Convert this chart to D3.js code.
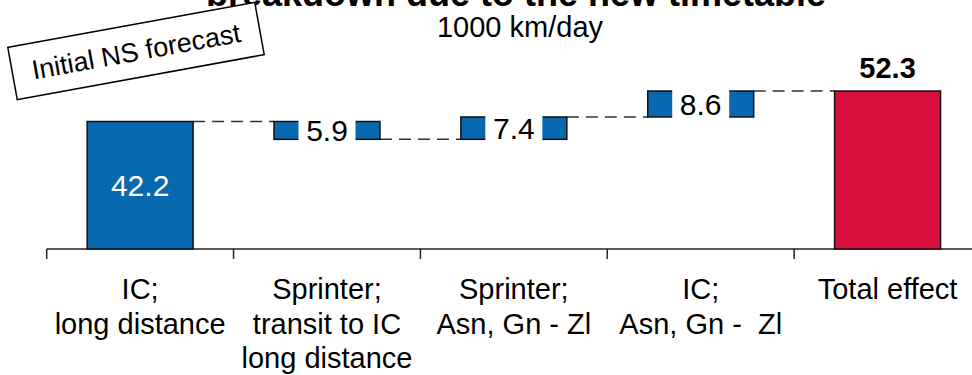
<!DOCTYPE html>
<html>
<head>
<meta charset="utf-8">
<script src="https://cdn.jsdelivr.net/npm/d3@7"></script>
<style>
  body { margin: 0; background: #fff; }
  text { font-family: "Liberation Sans", Arial, sans-serif; }
</style>
</head>
<body>
<div id="chart"></div>
<script>
// chart data
var categories = [
  ["IC;", "long distance"],
  ["Sprinter;", "transit to IC", "long distance"],
  ["Sprinter;", "Asn, Gn - Zl"],
  ["IC;", "Asn, Gn -  Zl"],
  ["Total effect"]
];
var values = [42.2, -5.9, 7.4, 8.6, 52.3];
var kinds = ["start", "delta", "delta", "delta", "total"];

var titleText = "breakdown due to the new timetable";
var subtitleText = "1000 km/day";
var noteText = "Initial NS forecast";

var svgWidth = 972;
var svgHeight = 375;

var blue = "#0868b0";
var red = "#d70f3a";

var svg = d3.select("#chart")
  .append("svg")
  .attr("width", svgWidth)
  .attr("height", svgHeight);

// running totals for the waterfall
var steps = [];
var level = 0;
values.forEach(function(v, i) {
  var s = {index: i, value: v, kind: kinds[i]};
  if (kinds[i] == "delta") {
    s.y0 = level;
    s.y1 = level + v;
  } else {
    s.y0 = 0;
    s.y1 = v;
  }
  level = s.y1;
  steps.push(s);
});

// scales
var xBand = d3.scaleBand()
  .domain(d3.range(categories.length))
  .range([46.7, 981]);

var xBar = d3.scaleBand()
  .domain(d3.range(categories.length))
  .range([46.7, 981])
  .paddingInner(0.433)
  .paddingOuter(0.2165);

var yScale = d3.scaleLinear()
  .domain([0, 52.3])
  .range([249, 91]);

// axis: line with ticks on category boundaries
var axisY = yScale(0);
var axis = svg.append("g");
axis.append("line")
  .attr("x1", xBand(0))
  .attr("x2", svgWidth)
  .attr("y1", axisY)
  .attr("y2", axisY)
  .attr("stroke", "#222")
  .attr("stroke-width", 1.5);
axis.selectAll(".tick")
  .data(d3.range(categories.length))
  .enter()
  .append("line")
  .attr("x1", d => xBand(d))
  .attr("x2", d => xBand(d))
  .attr("y1", axisY)
  .attr("y2", axisY + 10)
  .attr("stroke", "#222")
  .attr("stroke-width", 1.5);

// category labels
var catGroup = svg.append("g")
  .selectAll("text")
  .data(categories)
  .enter()
  .append("text")
  .attr("text-anchor", "middle")
  .attr("font-size", 29)
  .style("white-space", "pre")
  .attr("fill", "#000");
catGroup.each(function(lines, i) {
  d3.select(this).selectAll("tspan")
    .data(lines)
    .enter()
    .append("tspan")
    .attr("x", xBand(i) + xBand.bandwidth() / 2)
    .attr("y", (d, j) => 299 + j * 34.5)
    .text(d => d);
});

// dashed connectors
svg.append("g")
  .selectAll("line")
  .data(steps.slice(0, steps.length - 1))
  .enter()
  .append("line")
  .attr("x1", d => xBar(d.index) + xBar.bandwidth())
  .attr("x2", d => xBar(d.index + 1))
  .attr("y1", d => yScale(d.y1))
  .attr("y2", d => yScale(d.y1))
  .attr("stroke", "#333")
  .attr("stroke-width", 1.5)
  .attr("stroke-dasharray", "12,7");

// bars
svg.append("g")
  .selectAll("rect")
  .data(steps)
  .enter()
  .append("rect")
  .attr("x", d => xBar(d.index))
  .attr("width", xBar.bandwidth())
  .attr("y", d => yScale(Math.max(d.y0, d.y1)))
  .attr("height", d => Math.abs(yScale(d.y0) - yScale(d.y1)))
  .attr("fill", d => d.kind == "total" ? red : blue)
  .attr("stroke", "#111")
  .attr("stroke-width", 1.5);

// labels on the floating bars sit on a white gap
var deltas = steps.filter(d => d.kind == "delta");
svg.append("g")
  .selectAll("rect")
  .data(deltas)
  .enter()
  .append("rect")
  .attr("x", d => xBar(d.index) + xBar.bandwidth() / 2 - 28.5)
  .attr("width", 57)
  .attr("y", d => yScale(Math.max(d.y0, d.y1)) - 3)
  .attr("height", d => Math.abs(yScale(d.y0) - yScale(d.y1)) + 6)
  .attr("fill", "#fff");

svg.append("g")
  .selectAll("text")
  .data(deltas)
  .enter()
  .append("text")
  .attr("x", d => xBar(d.index) + xBar.bandwidth() / 2)
  .attr("y", d => (yScale(d.y0) + yScale(d.y1)) / 2)
  .attr("dy", "0.36em")
  .attr("text-anchor", "middle")
  .attr("font-size", 30)
  .attr("fill", "#000")
  .text(d => Math.abs(d.value).toFixed(1));

// start bar label (inside) and total label (above)
var startStep = steps[0];
svg.append("text")
  .attr("x", xBar(0) + xBar.bandwidth() / 2)
  .attr("y", (yScale(startStep.y0) + yScale(startStep.y1)) / 2)
  .attr("dy", "0.36em")
  .attr("text-anchor", "middle")
  .attr("font-size", 30)
  .attr("fill", "#fff")
  .text(startStep.value.toFixed(1));

var totalStep = steps[steps.length - 1];
svg.append("text")
  .attr("x", xBar(totalStep.index) + xBar.bandwidth() / 2)
  .attr("y", yScale(totalStep.y1) - 13)
  .attr("text-anchor", "middle")
  .attr("font-size", 29)
  .attr("font-weight", "bold")
  .attr("fill", "#000")
  .text(totalStep.value.toFixed(1));

// titles (top line is cut off by the frame)
svg.append("text")
  .attr("x", 516)
  .attr("y", 6)
  .attr("text-anchor", "middle")
  .attr("font-size", 36)
  .attr("font-weight", "bold")
  .attr("fill", "#000")
  .text(titleText);

svg.append("text")
  .attr("x", 520)
  .attr("y", 37)
  .attr("text-anchor", "middle")
  .attr("font-size", 29)
  .attr("fill", "#000")
  .text(subtitleText);

// tilted note box
var note = svg.append("g")
  .attr("transform", "translate(136, 51) rotate(-10.3)");
note.append("rect")
  .attr("x", -125.5)
  .attr("y", -26.5)
  .attr("width", 251)
  .attr("height", 53)
  .attr("fill", "#fff")
  .attr("stroke", "#000")
  .attr("stroke-width", 1.5);
note.append("text")
  .attr("x", 0)
  .attr("y", 0)
  .attr("dy", "0.36em")
  .attr("text-anchor", "middle")
  .attr("font-size", 27)
  .attr("fill", "#000")
  .text(noteText);
</script>
</body>
</html>
